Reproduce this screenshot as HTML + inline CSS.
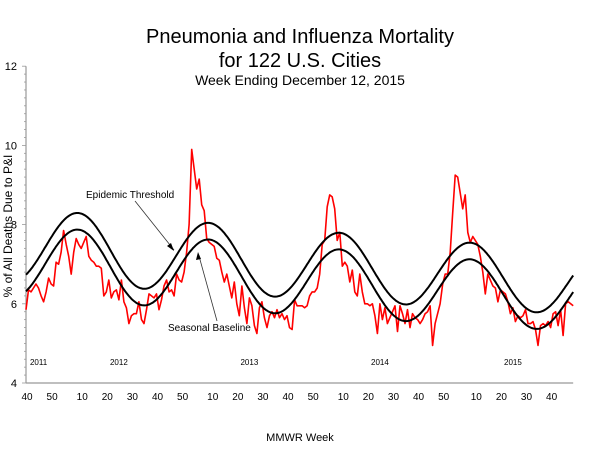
<!DOCTYPE html>
<html><head><meta charset="utf-8"><style>
body{margin:0;background:#fff;}
svg{display:block;font-family:"Liberation Sans",Arial,sans-serif;}
</style></head><body>
<svg id="chart" width="600" height="450" viewBox="0 0 600 450">
<text x="300" y="43" text-anchor="middle" font-size="20">Pneumonia and Influenza Mortality</text>
<text x="300" y="67" text-anchor="middle" font-size="20">for 122 U.S. Cities</text>
<text x="300" y="85" text-anchor="middle" font-size="14">Week Ending  December 12, 2015</text>
<text transform="translate(12,226) rotate(-90)" text-anchor="middle" font-size="12">% of All Deaths Due to P&amp;I</text>
<text x="300" y="441" text-anchor="middle" font-size="11">MMWR Week</text>
<g id="axes"></g>
<g id="marks"></g>
<g>
<text x="86" y="198" font-size="10">Epidemic Threshold</text>
<line x1="135" y1="201" x2="174" y2="250" stroke="#333" stroke-width="0.8"/>
<path d="M174,251 L167,246 L171,243 Z" fill="#000"/>
</g>
<g>
<text x="168" y="331" font-size="10">Seasonal Baseline</text>
<line x1="217" y1="321" x2="199" y2="256" stroke="#333" stroke-width="0.8"/>
<path d="M198,252 L196,260 L201,259 Z" fill="#000"/>
</g>
</svg>
<script>
const pi = [5.85,6.35,6.3,6.4,6.5,6.4,6.2,6.05,6.3,6.65,6.5,6.45,7.05,7.0,7.3,7.85,7.5,7.2,6.75,7.3,
7.65,7.5,7.4,7.55,7.7,7.2,7.1,7.05,6.95,6.95,6.9,6.2,6.3,6.6,6.15,6.3,6.35,6.1,6.6,6.05,
5.9,5.5,5.7,5.75,5.75,6.05,5.6,5.5,5.85,6.25,6.2,6.15,6.25,5.85,6.1,6.45,6.6,6.3,6.35,6.2,
6.75,6.6,6.55,6.8,7.3,8.0,9.9,9.4,8.9,9.15,8.5,8.35,7.65,7.55,7.5,7.45,7.15,7.1,6.8,6.55,
6.75,6.45,6.15,6.55,6.0,5.7,6.45,5.9,5.5,6.15,5.95,5.45,5.25,5.9,6.05,5.65,5.4,5.7,5.8,5.65,
5.85,5.65,5.75,5.6,5.7,5.4,5.35,6.1,5.95,5.95,5.95,5.9,5.95,6.2,6.3,6.3,6.4,6.75,7.5,7.6,
8.45,8.75,8.7,8.4,7.6,7.8,6.95,7.05,6.95,6.55,6.85,6.3,6.2,6.75,6.3,6.0,6.0,5.95,6.0,5.7,
5.25,6.0,5.6,5.9,5.5,5.65,5.8,5.95,5.3,5.95,5.75,5.5,5.85,5.4,5.75,5.65,5.6,5.5,5.6,5.75,
5.8,5.95,4.95,5.5,5.75,6.0,6.5,6.75,6.75,7.3,8.3,9.25,9.2,8.8,8.4,8.75,7.8,7.55,7.7,7.6,
7.5,7.2,6.8,6.25,6.75,6.6,6.45,6.4,6.05,6.35,6.3,6.25,6.05,5.75,5.9,5.55,5.7,5.65,5.7,5.85,
5.5,5.5,5.55,5.35,4.95,5.45,5.5,5.45,5.55,5.4,5.75,5.8,5.45,5.85,5.2,6.0,6.05,6.0,5.95];
// Seasonal baseline regression model parameters
const baselineMean = [6.905];
const baselineTrend = [-0.0043];
const baselineAmp = [0.90];
const baselineAmpTrend = [-0.0005];
const baselinePeakWeek = [20.8];
const baselinePeriod = [52.1];
const thresholdOffset = [0.42];
const yTicks = [4,6,8,10,12];
const yearLabels = ["2011","2012","2013","2014","2015"];
const yearLabelWeek = [5,37,89,141,194];
const yearStartIndex = [-40,12,64,116,169];
const weekTickYears = [0,0,1,1,1,1,1,2,2,2,2,2,3,3,3,3,3,4,4,4,4];
const weekTickWeeks = [40,50,10,20,30,40,50,10,20,30,40,50,10,20,30,40,50,10,20,30,40];

const NS="http://www.w3.org/2000/svg";
const X0=26, XW=2.51, Y0=383, YS=39.6;
const xs=t=>X0+XW*t;
const ys=v=>Y0-(v-4)*YS;
const axes=document.getElementById('axes'), marks=document.getElementById('marks');
function mk(tag,attrs,parent){const e=document.createElementNS(NS,tag);for(const k in attrs)e.setAttribute(k,attrs[k]);parent.appendChild(e);return e;}

let e=mk('line',{x1:X0,y1:ys(4),x2:X0,y2:ys(12),stroke:'#999','stroke-width':1.2},axes);


e=mk('line',{x1:X0,y1:Y0,x2:xs(218),y2:Y0,stroke:'#999','stroke-width':1.2},axes);


for(let v=4;v<=12.001;v+=0.2){
  const big=Math.abs(v-Math.round(v/2)*2)<0.01;
  mk('line',{x1:X0-(big?4:2),y1:ys(v),x2:X0,y2:ys(v),stroke:'#999','stroke-width':0.8},axes);
}
yTicks.forEach(v=>{
  const t=mk('text',{x:17,y:ys(v)+4,'text-anchor':'end','font-size':11},axes);
  t.textContent=v;
  
  
});
weekTickWeeks.forEach((w,i)=>{
  const idx=yearStartIndex[weekTickYears[i]]+w;
  const t=mk('text',{x:xs(idx)+1,y:400,'text-anchor':'middle','font-size':10},axes);
  t.textContent=w;
  
  
});
yearLabels.forEach((y,i)=>{
  const t=mk('text',{x:xs(yearLabelWeek[i]),y:365,'text-anchor':'middle','font-size':8},axes);
  t.textContent=y;
  
  
});

function base(t){
  const m=baselineMean[0]+baselineTrend[0]*(t-35);
  const a=baselineAmp[0]+baselineAmpTrend[0]*(t-35);
  return m+a*Math.cos(2*Math.PI*(t-baselinePeakWeek[0])/baselinePeriod[0]);
}
let db='',dt='';
for(let t=0;t<=pi.length-1;t+=0.5){
  db+=(t?'L':'M')+xs(t).toFixed(1)+','+ys(base(t)).toFixed(1);
  dt+=(t?'L':'M')+xs(t).toFixed(1)+','+ys(base(t)+thresholdOffset[0]).toFixed(1);
}
let d='';
pi.forEach((v,i)=>{d+=(i?'L':'M')+xs(i).toFixed(1)+','+ys(v).toFixed(1);});
e=mk('path',{d:d,fill:'none',stroke:'#ff0000','stroke-width':1.6,'stroke-linejoin':'round'},marks);


e=mk('path',{d:dt,fill:'none',stroke:'#000','stroke-width':2},marks);


e=mk('path',{d:db,fill:'none',stroke:'#000','stroke-width':2},marks);


</script>
</body></html>
